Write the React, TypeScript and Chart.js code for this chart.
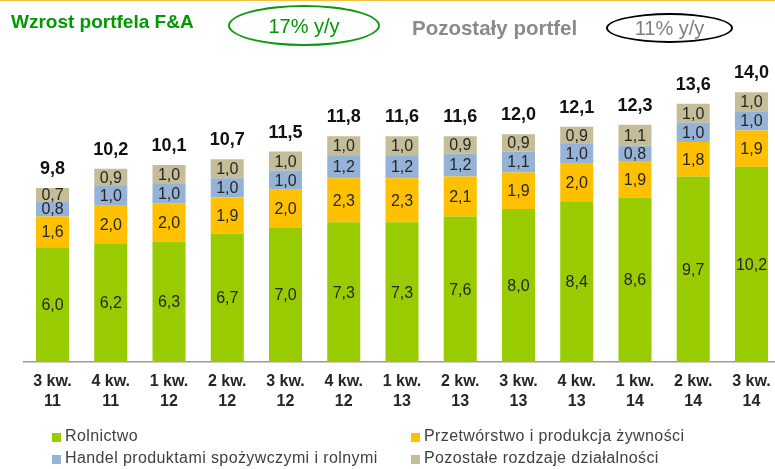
import React, { useEffect, useRef } from "react";
import { Chart, registerables } from "chart.js";

Chart.register(...registerables);

const quarters = ["3 kw.", "4 kw.", "1 kw.", "2 kw.", "3 kw.", "4 kw.", "1 kw.", "2 kw.", "3 kw.", "4 kw.", "1 kw.", "2 kw.", "3 kw."];
const years = ["11", "11", "12", "12", "12", "12", "13", "13", "13", "13", "14", "14", "14"];

const rolnictwo = [6.0, 6.2, 6.3, 6.7, 7.0, 7.3, 7.3, 7.6, 8.0, 8.4, 8.6, 9.7, 10.2];
const przetworstwo = [1.6, 2.0, 2.0, 1.9, 2.0, 2.3, 2.3, 2.1, 1.9, 2.0, 1.9, 1.8, 1.9];
const handel = [0.8, 1.0, 1.0, 1.0, 1.0, 1.2, 1.2, 1.2, 1.1, 1.0, 0.8, 1.0, 1.0];
const pozostale = [0.7, 0.9, 1.0, 1.0, 1.0, 1.0, 1.0, 0.9, 0.9, 0.9, 1.1, 1.0, 1.0];
const totals = [9.8, 10.2, 10.1, 10.7, 11.5, 11.8, 11.6, 11.6, 12.0, 12.1, 12.3, 13.6, 14.0];

const seriesNames = [
  "Rolnictwo",
  "Przetwórstwo i produkcja żywności",
  "Handel produktami spożywczymi i rolnymi",
  "Pozostałe rozdzaje działalności",
];
const colors = ["#99CC00", "#FFC000", "#95B3D7", "#C4BD97"];

const fmt = (v: number) => v.toFixed(1).replace(".", ",");

const labelPlugin = {
  id: "barLabels",
  afterDatasetsDraw(chart: any) {
    const ctx = chart.ctx;
    ctx.save();
    ctx.textAlign = "center";
    ctx.textBaseline = "middle";
    ctx.font = "16px 'Liberation Sans', Arial, sans-serif";
    ctx.fillStyle = "#262626";
    chart.data.datasets.forEach((ds: any, di: number) => {
      const meta = chart.getDatasetMeta(di);
      meta.data.forEach((el: any, i: number) => {
        const y = (el.y + el.base) / 2;
        ctx.fillText(fmt(ds.data[i]), el.x, y + 1);
      });
    });
    const last = chart.getDatasetMeta(chart.data.datasets.length - 1);
    ctx.font = "bold 18px 'Liberation Sans', Arial, sans-serif";
    ctx.fillStyle = "#111111";
    last.data.forEach((el: any, i: number) => {
      ctx.fillText(fmt(totals[i]), el.x, el.y - 19);
    });
    ctx.restore();
  },
};

export default function App() {
  const ref = useRef<HTMLCanvasElement>(null);

  useEffect(() => {
    if (!ref.current) return;
    const data = [rolnictwo, przetworstwo, handel, pozostale];
    const chart = new Chart(ref.current, {
      type: "bar",
      data: {
        labels: quarters.map((q, i) => [q, years[i]]),
        datasets: data.map((d, i) => ({
          label: seriesNames[i],
          data: d,
          backgroundColor: colors[i],
          borderWidth: 0,
          barPercentage: 0.567,
          categoryPercentage: 1,
        })),
      },
      options: {
        responsive: false,
        animation: false,
        layout: { padding: { left: 23.4, right: 9.4, top: 75, bottom: 47 } },
        plugins: { legend: { display: false }, tooltip: { enabled: false } },
        scales: {
          x: {
            stacked: true,
            offset: true,
            grid: { display: false, drawTicks: false },
            border: { display: true, color: "#9a9a9a", width: 1.5 },
            ticks: {
              color: "#262626",
              font: { family: "'Liberation Sans', Arial, sans-serif", size: 16, weight: "bold", lineHeight: 20 / 16 },
              padding: 10,
              maxRotation: 0,
              autoSkip: false,
            },
            afterFit: (scale: any) => {
              scale.height = 60;
            },
          },
          y: {
            stacked: true,
            display: false,
            min: 0,
            max: 15,
          },
        },
      },
      plugins: [labelPlugin],
    });
    return () => chart.destroy();
  }, []);

  const legendFont = "'Liberation Sans', Arial, sans-serif";
  const legendItems = [
    { x: 52, y: 428, c: 0 },
    { x: 411, y: 428, c: 1 },
    { x: 52, y: 450, c: 2 },
    { x: 411, y: 450, c: 3 },
  ];

  return (
    <div style={{ position: "absolute", left: 0, top: 0, width: 775, height: 469, overflow: "hidden", background: "#fff" }}>
      <div style={{ position: "absolute", left: 0, top: 0, width: 775, height: 1, background: "#f0c040" }} />
      <div style={{ position: "absolute", left: 0, top: 0 }}>
        <canvas ref={ref} width={790} height={469} />
      </div>
      <div style={{ position: "absolute", left: 11, top: 12, fontFamily: legendFont, fontWeight: "bold", fontSize: 19, lineHeight: "19px", color: "#009900", whiteSpace: "nowrap" }}>
        Wzrost portfela F&amp;A
      </div>
      <div style={{ position: "absolute", left: 228, top: 5, width: 152, height: 41, boxSizing: "border-box", border: "2.5px solid #0a9a0a", borderRadius: "50%" }} />
      <div style={{ position: "absolute", left: 228, width: 152, top: 16, textAlign: "center", fontFamily: legendFont, fontSize: 20, lineHeight: "20px", color: "#009900", whiteSpace: "nowrap" }}>
        17% y/y
      </div>
      <div style={{ position: "absolute", left: 412, top: 18, fontFamily: legendFont, fontWeight: "bold", fontSize: 20.5, lineHeight: "20.5px", color: "#8a8a8a", whiteSpace: "nowrap" }}>
        Pozostały portfel
      </div>
      <div style={{ position: "absolute", left: 606, top: 13, width: 127, height: 30, boxSizing: "border-box", border: "2.5px solid #000", borderRadius: "50%" }} />
      <div style={{ position: "absolute", left: 606, width: 127, top: 18, textAlign: "center", fontFamily: legendFont, fontSize: 20, lineHeight: "20px", color: "#808080", whiteSpace: "nowrap" }}>
        11% y/y
      </div>
      {legendItems.map((it) => (
        <React.Fragment key={it.c}>
          <div style={{ position: "absolute", left: it.x, top: it.y + 5, width: 9, height: 9, background: colors[it.c] }} />
          <div style={{ position: "absolute", left: it.x + 13, top: it.y, fontFamily: legendFont, fontSize: 16, lineHeight: "16px", letterSpacing: 0.4, color: "#404040", whiteSpace: "nowrap" }}>
            {seriesNames[it.c]}
          </div>
        </React.Fragment>
      ))}
    </div>
  );
}
